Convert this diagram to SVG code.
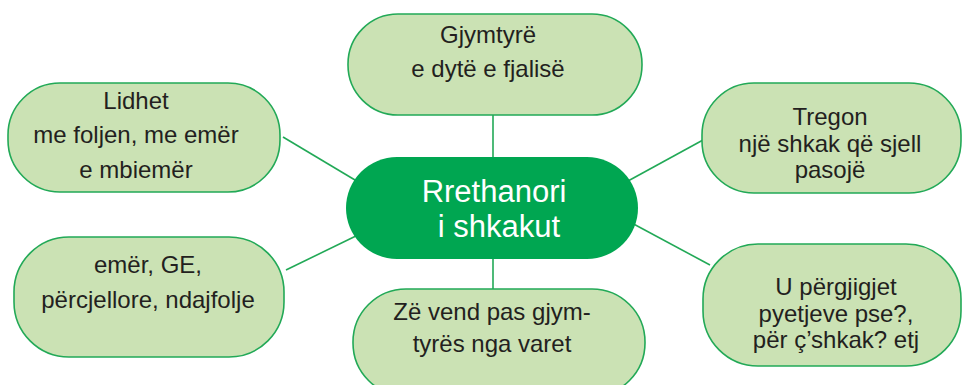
<svg xmlns="http://www.w3.org/2000/svg" width="964" height="385" viewBox="0 0 964 385">
<style>
.n{fill:#cbe2b4;stroke:#22a957;stroke-width:1.6}
.c{fill:#00a651}
.t{font-family:"Liberation Sans",Arial,sans-serif;font-size:24px;fill:#231f20;text-anchor:middle}
.w{font-family:"Liberation Sans",Arial,sans-serif;font-size:31px;fill:#ffffff;text-anchor:middle}
.l{stroke:#22a957;stroke-width:1.6;fill:none}
</style>
<rect width="964" height="385" fill="#ffffff"/>
<g id="connectors">
<line class="l" x1="493" y1="115" x2="493" y2="160"/>
<line class="l" x1="493" y1="255" x2="493" y2="290"/>
<line class="l" x1="283" y1="137" x2="360" y2="183"/>
<line class="l" x1="286" y1="270" x2="360" y2="234"/>
<line class="l" x1="628" y1="181" x2="703" y2="140"/>
<line class="l" x1="628" y1="221" x2="710" y2="265"/>
</g>
<g id="top">
<rect class="n" x="348" y="14" width="294" height="101" rx="50"/>
<text class="t" x="488" y="43">Gjymtyrë</text>
<text class="t" x="488" y="77">e dytë e fjalisë</text>
</g>
<g id="left-top">
<rect class="n" x="8" y="83" width="272" height="109" rx="52"/>
<text class="t" x="136" y="109">Lidhet</text>
<text class="t" x="136" y="143">me foljen, me emër</text>
<text class="t" x="136" y="178">e mbiemër</text>
</g>
<g id="right-top">
<rect class="n" x="702" y="83" width="259" height="110" rx="52"/>
<text class="t" x="830" y="125">Tregon</text>
<text class="t" x="830" y="152">një shkak që sjell</text>
<text class="t" x="830" y="178">pasojë</text>
</g>
<g id="center">
<rect class="c" x="346" y="157" width="292" height="102" rx="51"/>
<text class="w" x="494" y="202">Rrethanori</text>
<text class="w" x="499" y="237">i shkakut</text>
</g>
<g id="left-bottom">
<rect class="n" x="14" y="237" width="270" height="120" rx="55"/>
<text class="t" x="148" y="273">emër, GE,</text>
<text class="t" x="148" y="308">përcjellore, ndajfolje</text>
</g>
<g id="bottom">
<rect class="n" x="353" y="289" width="292" height="107" rx="53"/>
<text class="t" x="492" y="320">Zë vend pas gjym-</text>
<text class="t" x="492" y="352">tyrës nga varet</text>
</g>
<g id="right-bottom">
<rect class="n" x="703" y="244" width="258" height="122" rx="55"/>
<text class="t" x="836" y="295">U përgjigjet</text>
<text class="t" x="836" y="322">pyetjeve pse?,</text>
<text class="t" x="836" y="348">për ç’shkak? etj</text>
</g>
</svg>
